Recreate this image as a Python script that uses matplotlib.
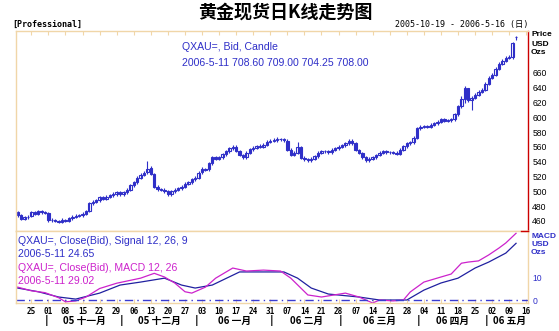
import numpy as np
import pandas as pd
import matplotlib.pyplot as plt
import matplotlib.transforms as mtransforms
from matplotlib.lines import Line2D

# daily candles 2005-10-19 .. 2006-05-11 (business days)
opens = [472, 468, 463, 465, 467, 472, 470, 473, 472,
         471, 461, 462, 460, 459, 462, 460, 464, 466, 467, 468, 470, 474, 484, 486, 488, 492, 490, 493, 495, 496, 499,
         496, 499, 502, 508, 512, 518, 522, 526, 532, 524, 506, 503, 502, 501, 496, 500, 502, 504, 506, 510, 512, 516,
         518, 526, 530, 530, 538, 546, 544, 546, 550, 554, 558, 560, 555, 549, 546, 552, 557, 559, 561, 560, 563, 567,
         568, 569, 570, 570, 568, 556, 549, 552, 560, 545, 543, 542, 544, 547, 552, 554, 554, 553, 556, 558,
         560, 562, 565, 568, 565, 556, 552, 546, 542, 544, 546, 549, 552, 554, 553, 553, 552, 551, 556, 561, 565, 566, 572,
         585, 587, 588, 587, 590, 592, 594, 597, 595, 596, 597, 604, 615, 625, 639, 623, 626, 630, 634, 637,
         645, 653, 657, 665, 672, 676, 680, 681, 708.6]
highs = [474, 469, 467, 468, 474, 474, 475, 475, 474,
         472, 464, 463, 462, 464, 463, 466, 468, 469, 470, 472, 475, 486, 488, 490, 494, 494, 495, 497, 499, 501, 500,
         501, 504, 510, 514, 520, 525, 528, 541, 534, 525, 508, 505, 504, 502, 502, 504, 506, 508, 512, 514, 518, 520,
         527, 533, 532, 540, 548, 548, 548, 552, 556, 560, 563, 562, 556, 551, 554, 559, 561, 563, 564, 565, 569, 570,
         572, 573, 572, 572, 570, 558, 554, 567, 561, 547, 545, 546, 549, 554, 556, 556, 556, 558, 560, 562,
         564, 567, 570, 570, 566, 557, 553, 547, 546, 548, 551, 554, 556, 556, 555, 555, 554, 558, 563, 567, 568, 574, 587,
         589, 590, 590, 592, 594, 596, 599, 599, 598, 599, 606, 617, 628, 642, 640, 629, 632, 636, 639, 647,
         655, 659, 667, 674, 678, 682, 684, 702, 709]
lows = [466, 461, 461, 463, 465, 468, 468, 470, 469,
        459, 459, 458, 457, 457, 458, 458, 462, 464, 465, 466, 468, 472, 482, 484, 486, 488, 488, 491, 493, 494, 494,
        494, 497, 500, 506, 510, 516, 520, 524, 522, 504, 501, 500, 498, 494, 494, 498, 500, 502, 504, 508, 510, 514,
        516, 524, 527, 528, 536, 542, 542, 544, 548, 552, 556, 553, 547, 544, 544, 550, 555, 557, 558, 558, 561, 565,
        566, 567, 568, 567, 554, 547, 547, 550, 543, 541, 540, 540, 542, 545, 550, 552, 551, 551, 554, 556,
        558, 560, 563, 563, 554, 550, 544, 540, 540, 542, 544, 547, 550, 551, 551, 550, 549, 549, 554, 559, 563, 564, 570,
        583, 585, 585, 585, 588, 590, 592, 593, 593, 594, 595, 602, 613, 619, 620, 610, 624, 628, 632, 635,
        643, 651, 655, 663, 670, 674, 678, 679, 704.25]
closes = [468, 463, 465, 466, 472, 470, 473, 472, 471,
          461, 462, 460, 459, 462, 460, 464, 466, 467, 468, 470, 473, 484, 486, 488, 492, 490, 493, 495, 496, 499, 496,
          499, 502, 508, 512, 518, 522, 525, 530, 524, 506, 503, 502, 501, 496, 500, 502, 504, 506, 510, 512, 516, 518,
          525, 530, 529, 538, 546, 544, 546, 550, 554, 558, 560, 555, 549, 546, 552, 557, 559, 561, 560, 563, 567, 568,
          569, 570, 570, 569, 556, 549, 552, 560, 545, 543, 542, 544, 547, 552, 554, 554, 553, 556, 558, 560,
          562, 565, 568, 565, 556, 552, 546, 542, 544, 546, 549, 552, 554, 553, 553, 552, 551, 556, 561, 565, 566, 572, 585,
          587, 588, 587, 590, 592, 594, 597, 595, 596, 597, 604, 615, 625, 639, 623, 626, 630, 634, 637, 645,
          653, 657, 665, 672, 676, 680, 681, 700, 708]

macd_days = ['2005-10-19', '2005-10-25', '2005-10-31', '2005-11-04', '2005-11-08', '2005-11-11', '2005-11-16',
             '2005-11-22', '2005-11-29', '2005-12-08', '2005-12-14', '2005-12-19', '2005-12-22', '2005-12-27',
             '2005-12-29', '2006-01-04', '2006-01-09', '2006-01-16', '2006-01-20', '2006-01-27', '2006-02-03',
             '2006-02-08', '2006-02-15', '2006-02-21', '2006-03-02', '2006-03-08', '2006-03-14', '2006-03-16',
             '2006-03-22', '2006-03-27', '2006-03-29', '2006-04-04', '2006-04-11', '2006-04-14', '2006-04-19',
             '2006-04-21', '2006-04-26', '2006-05-01', '2006-05-04', '2006-05-08', '2006-05-11']
macd_vals = [5.6, 4.0, 3.2, 1.0, -0.8, -0.4, 1.3, 5.0, 7.3, 9.5, 11.6, 10.0, 7.4, 3.6, 3.0, 5.6, 9.5, 13.9, 12.6,
             13.0, 12.6, 9.5, 2.2, 1.3, 3.0, 1.3, -1.3, 0.0, -0.4, 0.0, 3.5, 7.8, 10.0, 11.3, 16.0, 16.5, 17.0,
             19.6, 22.6, 24.8, 29.02]
signal_days = ['2005-10-19', '2005-10-27', '2005-11-04', '2005-11-11', '2005-11-22', '2005-11-30', '2005-12-08',
               '2005-12-19', '2005-12-26', '2005-12-30', '2006-01-06', '2006-01-18', '2006-02-06', '2006-02-10',
               '2006-02-16', '2006-02-23', '2006-03-08', '2006-03-16', '2006-03-28', '2006-04-04', '2006-04-11',
               '2006-04-18', '2006-04-25', '2006-05-01', '2006-05-08', '2006-05-11']
signal_vals = [5.2, 3.6, 1.3, 0.4, 3.0, 6.5, 7.8, 9.5, 6.5, 5.2, 6.5, 12.2, 12.2, 9.5, 5.2, 2.6, 1.3, 0.0, 0.0,
               4.3, 7.4, 9.5, 13.9, 16.5, 20.4, 24.65]

month_labels = ['05 十一月', '05 十二月', '06 一月', '06 二月', '06 三月', '06 四月', '06 五月']
price_ticks = [460, 480, 500, 520, 540, 560, 580, 600, 620, 640, 660]
macd_ticks = [0, 10]

BLUE = '#2f2fc8'
MAG = '#cc22cc'
TAN = '#f0d6a8'
RED = '#cc0000'

days = pd.bdate_range('2005-10-19', '2006-05-16')
pos = {d.strftime('%Y-%m-%d'): i for i, d in enumerate(days)}
n = len(closes)
x = np.arange(n)
o = np.array(opens, float)
c = np.array(closes, float)

W, H = 559, 331
fig = plt.figure(figsize=(W / 100, H / 100), dpi=100)
fx = lambda px: px / W
fy = lambda py: 1 - py / H
ax1 = fig.add_axes([fx(16), fy(231), fx(528) - fx(16), fy(31) - fy(231)])
ax2 = fig.add_axes([fx(16), fy(303), fx(528) - fx(16), fy(231) - fy(303)])

# candles
ax1.vlines(x, lows, highs, color=BLUE, lw=0.8)
up = c >= o
body = np.maximum(np.abs(c - o), 0.6)
ax1.bar(x[up], body[up], bottom=np.minimum(o, c)[up], width=0.7,
        facecolor='white', edgecolor=BLUE, linewidth=0.8)
ax1.bar(x[~up], body[~up], bottom=np.minimum(o, c)[~up], width=0.7,
        facecolor=BLUE, edgecolor=BLUE, linewidth=0.8)
ax1.set_ylim(446.5, 716.2)

# macd
ax2.plot([pos[d] for d in signal_days], signal_vals, color='#2020a0', lw=0.9)
ax2.plot([pos[d] for d in macd_days], macd_vals, color=MAG, lw=0.9)
ax2.axhline(0, color='#3a3ad0', lw=1.0, ls=(0, (6, 3, 1, 3)))
ax2.set_ylim(-1.3, 30)

tue = [i for i, d in enumerate(days) if d.weekday() == 1]
for ax in (ax1, ax2):
    ax.set_xlim(-0.5, len(days) - 0.5)
    for s in ax.spines.values():
        s.set_color(TAN)
        s.set_linewidth(1.0)
    ax.set_xticks(tue)
    ax.set_xticklabels([])
    ax.yaxis.tick_right()
    ax.tick_params(axis='x', direction='in', length=3, color=TAN, top=(ax is ax1), bottom=(ax is ax2))
    ax.tick_params(axis='y', length=0, pad=3)
ax1.spines['right'].set_color(RED)
ax1.set_yticks(price_ticks)
ax1.set_yticklabels([str(t) for t in price_ticks], fontsize=6.2, family='Liberation Sans')
ax2.set_yticks(macd_ticks)
ax2.set_yticklabels([str(t) for t in macd_ticks], fontsize=6.2, family='Liberation Sans', color=BLUE)
fig.add_artist(Line2D([fx(521), fx(528)], [fy(230.5), fy(230.5)], color=RED, lw=1))

# date labels
tr = mtransforms.blended_transform_factory(ax2.transData, fig.transFigure)
for i in tue:
    ax2.text(i, fy(311), days[i].strftime('%d'), transform=tr, ha='center', va='center',
             fontsize=5.5, family='DejaVu Sans Mono', weight='bold')
months = days.to_period('M')
starts = [i for i in range(1, len(days)) if months[i] != months[i - 1]]
for k, s in enumerate(starts):
    ax2.text(s - 0.5, fy(320), '|', transform=tr, ha='center', va='center', fontsize=7, weight='bold')
    if k + 1 < len(starts):
        ax2.text((s + starts[k + 1] - 1) / 2, fy(321), month_labels[k], transform=tr, ha='center',
                 va='center', fontsize=7, family='Noto Sans CJK SC', weight='bold')
    else:
        ax2.text(s + 1.2, fy(321), month_labels[k], transform=tr, ha='left',
                 va='center', fontsize=7, family='Noto Sans CJK SC', weight='bold')

# texts
fig.text(fx(285), fy(12), '黄金现货日K线走势图', ha='center', va='center', fontsize=13,
         family='Noto Sans CJK SC', weight='bold')
fig.text(fx(12), fy(24), '[Professional]', ha='left', va='center', fontsize=6,
         family='DejaVu Sans Mono', weight='bold')
fig.text(fx(528), fy(24), '2005-10-19 - 2006-5-16 (日)', ha='right', va='center', fontsize=6,
         family=['DejaVu Sans Mono', 'Noto Sans CJK SC'])
for txt, yy in [('Price', 35), ('USD', 44), ('Ozs', 53)]:
    fig.text(fx(531), fy(yy), txt, ha='left', va='center', fontsize=6, weight='bold', family='Liberation Sans')
for txt, yy in [('MACD', 236), ('USD', 244), ('Ozs', 253)]:
    fig.text(fx(531), fy(yy), txt, ha='left', va='center', fontsize=6, weight='bold',
             family='Liberation Sans', color=BLUE)

fig.text(fx(182), fy(47), 'QXAU=, Bid, Candle', ha='left', va='center', fontsize=7.6,
         family='Liberation Sans', color=BLUE)
fig.text(fx(182), fy(63), '2006-5-11 708.60 709.00 704.25 708.00', ha='left', va='center', fontsize=7.6,
         family='Liberation Sans', color=BLUE)
fig.text(fx(18), fy(241), 'QXAU=, Close(Bid), Signal 12, 26, 9', ha='left', va='center', fontsize=7.6,
         family='Liberation Sans', color=BLUE)
fig.text(fx(18), fy(254), '2006-5-11 24.65', ha='left', va='center', fontsize=7.6,
         family='Liberation Sans', color=BLUE)
fig.text(fx(18), fy(268), 'QXAU=, Close(Bid), MACD 12, 26', ha='left', va='center', fontsize=7.6,
         family='Liberation Sans', color=MAG)
fig.text(fx(18), fy(281), '2006-5-11 29.02', ha='left', va='center', fontsize=7.6,
         family='Liberation Sans', color=MAG)

fig.savefig('out.png', dpi=100)
